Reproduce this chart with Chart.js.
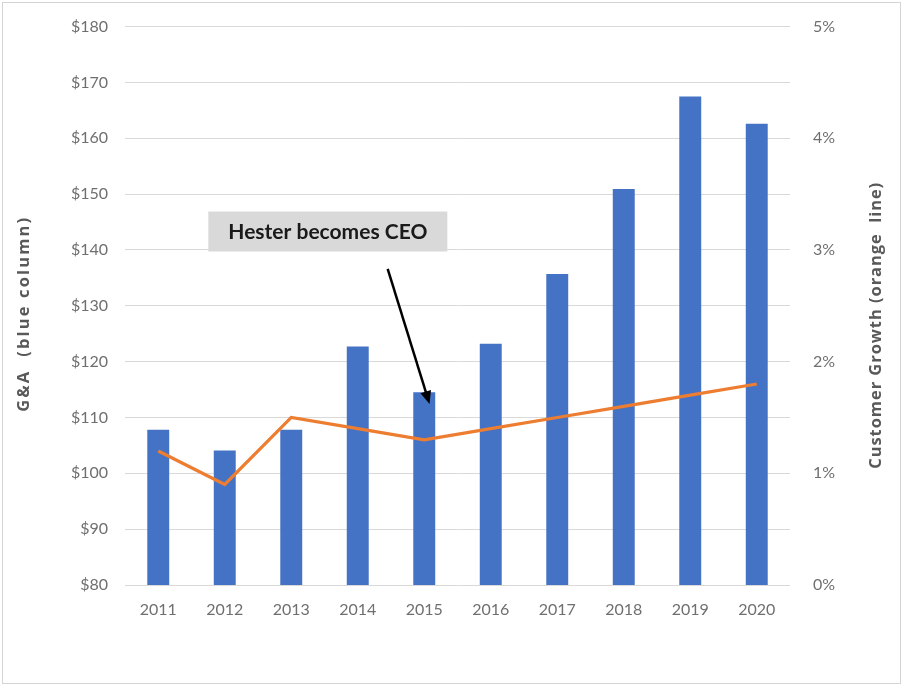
<!DOCTYPE html>
<html>
<head>
<meta charset="utf-8">
<script src="https://cdn.jsdelivr.net/npm/chart.js@4"></script>
<style>
  html, body { margin: 0; padding: 0; background: #fff; }
  #wrap { width: 904px; height: 686px; }
</style>
</head>
<body>
<div id="wrap"><canvas id="grafico" width="904" height="686"></canvas></div>
<script>
// datos
const anios = ["2011", "2012", "2013", "2014", "2015", "2016", "2017", "2018", "2019", "2020"];
const gastosGA = [107.8, 104.1, 107.8, 122.7, 114.5, 123.2, 135.7, 150.9, 167.5, 162.6];
const crecimientoClientes = [1.2, 0.9, 1.5, 1.4, 1.3, 1.4, 1.5, 1.6, 1.7, 1.8];
const ticksGA = [80, 90, 100, 110, 120, 130, 140, 150, 160, 170, 180];
const ticksPct = [0, 1, 2, 3, 4, 5];
const notaTexto = "Hester becomes CEO";
const tituloIzquierdo = "G&A  (blue column)";
const tituloDerecho = "Customer Growth (orange  line)";

const fuente = "Lato, 'Open Sans', sans-serif";
const gris = "#6f6f6f";

// nota con flecha, ubicada en unidades de categoria / valor
const nota = {
  cajaX: 2.55, cajaY: 143.3, ancho: 239, alto: 40,
  flechaDesde: [3.45, 136.6], flechaHasta: [4.08, 112.4]
};

const fondoYMarco = {
  id: "fondoYMarco",
  beforeDraw(chart) {
    const ctx = chart.ctx;
    ctx.save();
    ctx.fillStyle = "#fff";
    ctx.fillRect(0, 0, chart.width, chart.height);
    ctx.strokeStyle = "#d4d4d4";
    ctx.lineWidth = 1;
    ctx.strokeRect(2.5, 2.5, chart.width - 6, chart.height - 5);
    ctx.restore();
  }
};

// texto girado, con algo de espaciado hasta el largo del original
function textoVertical(ctx, texto, x, y, largo) {
  ctx.save();
  ctx.translate(x, y);
  ctx.rotate(-Math.PI / 2);
  ctx.fillStyle = "#595959";
  ctx.font = "bold 16.5px 'Open Sans', sans-serif";
  const w = ctx.measureText(texto).width;
  ctx.letterSpacing = Math.max(0, (largo - w) / (texto.length - 1)) + "px";
  ctx.textAlign = "left";
  ctx.textBaseline = "middle";
  ctx.fillText(texto, -largo / 2, 0);
  ctx.restore();
}

const titulosEjes = {
  id: "titulosEjes",
  afterDraw(chart) {
    const { ctx, chartArea } = chart;
    const medio = (chartArea.top + chartArea.bottom) / 2;
    textoVertical(ctx, tituloIzquierdo, 24, medio + 9, 194);
    textoVertical(ctx, tituloDerecho, 876, medio + 20, 286);
  }
};

const notaCEO = {
  id: "notaCEO",
  afterDatasetsDraw(chart) {
    const { ctx, scales } = chart;
    const x = scales.x, y = scales.y;
    const px = v => x.getPixelForValue(0) + v * (x.getPixelForValue(1) - x.getPixelForValue(0));
    ctx.save();
    const cx = px(nota.cajaX), cy = y.getPixelForValue(nota.cajaY);
    ctx.fillStyle = "#d9d9d9";
    ctx.fillRect(cx - nota.ancho / 2, cy - nota.alto / 2, nota.ancho, nota.alto);
    ctx.fillStyle = "#1a1a1a";
    ctx.font = "bold 21px " + fuente;
    ctx.textAlign = "center";
    ctx.textBaseline = "middle";
    ctx.fillText(notaTexto, cx, cy + 1);

    const x1 = px(nota.flechaDesde[0]), y1 = y.getPixelForValue(nota.flechaDesde[1]);
    const x2 = px(nota.flechaHasta[0]), y2 = y.getPixelForValue(nota.flechaHasta[1]);
    const ang = Math.atan2(y2 - y1, x2 - x1);
    ctx.strokeStyle = "#000";
    ctx.lineWidth = 2.5;
    ctx.beginPath();
    ctx.moveTo(x1, y1);
    ctx.lineTo(x2 - 8 * Math.cos(ang), y2 - 8 * Math.sin(ang));
    ctx.stroke();
    ctx.fillStyle = "#000";
    ctx.beginPath();
    ctx.moveTo(x2, y2);
    ctx.lineTo(x2 - 13 * Math.cos(ang) + 5.5 * Math.sin(ang), y2 - 13 * Math.sin(ang) - 5.5 * Math.cos(ang));
    ctx.lineTo(x2 - 13 * Math.cos(ang) - 5.5 * Math.sin(ang), y2 - 13 * Math.sin(ang) + 5.5 * Math.cos(ang));
    ctx.closePath();
    ctx.fill();
    ctx.restore();
  }
};

new Chart(document.getElementById("grafico"), {
  data: {
    labels: anios,
    datasets: [
      {
        type: "line",
        label: "Customer Growth",
        data: crecimientoClientes,
        yAxisID: "y1",
        borderColor: "#ED7D31",
        borderWidth: 3.2,
        pointRadius: 0,
        tension: 0,
        order: 0
      },
      {
        type: "bar",
        label: "G&A",
        data: gastosGA,
        yAxisID: "y",
        backgroundColor: "#4472C4",
        barPercentage: 0.33,
        categoryPercentage: 1,
        order: 1
      }
    ]
  },
  options: {
    responsive: false,
    animation: false,
    layout: { padding: { top: 25, left: 4, right: 6, bottom: 0 } },
    plugins: { legend: { display: false }, tooltip: { enabled: false } },
    scales: {
      x: {
        grid: { display: false },
        border: { display: false },
        ticks: { color: gris, font: { family: fuente, size: 16 }, padding: 7 },
        afterFit(s) { s.height = 101; }
      },
      y: {
        position: "left",
        min: 80, max: 180,
        afterBuildTicks(s) { s.ticks = ticksGA.map(v => ({ value: v })); },
        ticks: { color: gris, font: { family: fuente, size: 16 }, padding: 17, callback: v => "$" + v },
        grid: { color: "#d9d9d9", drawTicks: false },
        border: { display: false },
        afterFit(s) { s.width = 121; }
      },
      y1: {
        position: "right",
        min: 0, max: 5,
        afterBuildTicks(s) { s.ticks = ticksPct.map(v => ({ value: v })); },
        ticks: { color: gris, font: { family: fuente, size: 16 }, padding: 15, callback: v => v + "%" },
        grid: { display: false },
        border: { display: false },
        afterFit(s) { s.width = 108; }
      }
    }
  },
  plugins: [fondoYMarco, notaCEO, titulosEjes]
});
</script>
</body>
</html>
